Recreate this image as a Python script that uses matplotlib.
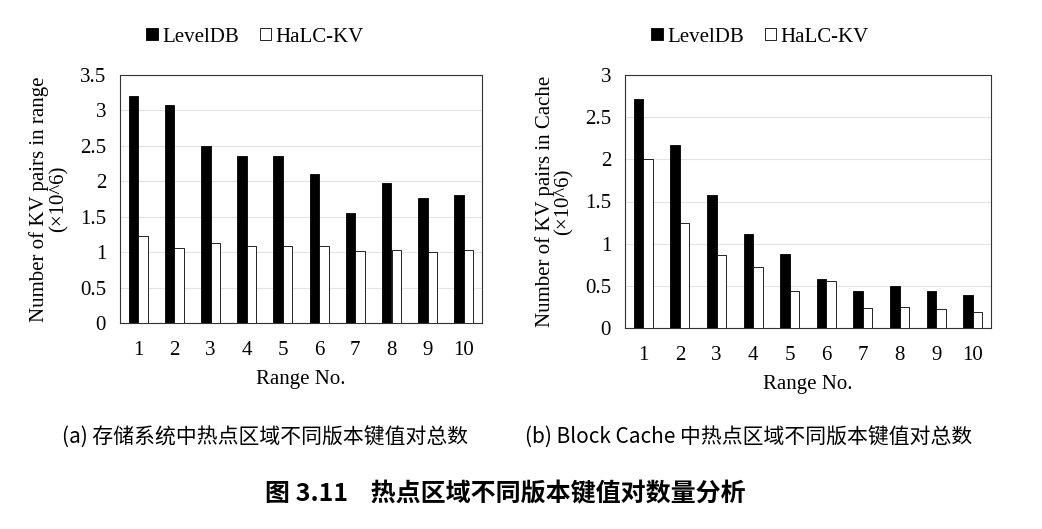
import numpy as np
import matplotlib
matplotlib.use("Agg")
import matplotlib.pyplot as plt

plt.rcParams['font.family'] = ['Liberation Serif', 'DejaVu Serif']

ranges = ["1", "2", "3", "4", "5", "6", "7", "8", "9", "10"]
series_names = ["LevelDB", "HaLC-KV"]

# (a) KV pairs in range (x10^6)
leveldb_range = [3.21, 3.07, 2.50, 2.36, 2.35, 2.10, 1.55, 1.97, 1.76, 1.80]
halc_range = [1.23, 1.06, 1.13, 1.085, 1.08, 1.085, 1.01, 1.03, 1.00, 1.03]

# (b) KV pairs in block cache (x10^6)
leveldb_cache = [2.71, 2.17, 1.58, 1.11, 0.88, 0.58, 0.435, 0.50, 0.435, 0.39]
halc_cache = [2.00, 1.24, 0.87, 0.72, 0.435, 0.56, 0.24, 0.245, 0.22, 0.19]

captions = ["(a) 存储系统中热点区域不同版本键值对总数",
            "(b) Block Cache 中热点区域不同版本键值对总数"]
fig_title = "图 3.11    热点区域不同版本键值对数量分析"

fig = plt.figure(figsize=(10.42, 5.29), dpi=100)

W, H = 1042.0, 529.0
# axes boxes in pixel coords: left, top, right, bottom
boxes = [(120, 75, 482, 323), (625, 75, 991, 328)]
legend_cx = [255, 760]
panels = [
    (leveldb_range, halc_range, 3.5, np.arange(0, 3.51, 0.5),
     "Number of KV pairs in range\n(×10^6)"),
    (leveldb_cache, halc_cache, 3.0, np.arange(0, 3.01, 0.5),
     "Number of KV pairs in Cache\n(×10^6)"),
]

x = np.arange(1, len(ranges) + 1)
w = 0.26
for (l, t, r, b), lcx, (a_vals, b_vals, ymax, yt, ylab) in zip(boxes, legend_cx, panels):
    ax = fig.add_axes([l / W, 1 - b / H, (r - l) / W, (b - t) / H])
    ax.bar(x - w / 2, a_vals, w, color='black', edgecolor='black',
           linewidth=0.6, label=series_names[0], zorder=3)
    ax.bar(x + w / 2, b_vals, w, color='white', edgecolor='black',
           linewidth=0.6, label=series_names[1], zorder=3)
    ax.set_xlim(0.5, 10.5)
    ax.set_ylim(0, ymax)
    ax.set_yticks(yt)
    ax.set_yticklabels([("%g" % v) for v in yt])
    ax.set_xticks(x)
    ax.set_xticklabels(ranges)
    ax.yaxis.grid(True, color='#e4e4e4', linewidth=0.8, zorder=0)
    ax.tick_params(length=0, labelsize=15, pad=10)
    ax.tick_params(axis='x', pad=13)
    for s in ax.spines.values():
        s.set_color('#333333')
        s.set_linewidth(0.8)
    ax.set_xlabel("Range No.", fontsize=15, labelpad=7)
    ax.set_ylabel(ylab, fontsize=15, linespacing=1.0, labelpad=8)
    ax.legend(loc='center', bbox_to_anchor=((lcx - l) / (r - l), 1 + (t - 37) / (b - t)),
              ncol=2, frameon=False, fontsize=15, handlelength=0.55, handleheight=0.55,
              handletextpad=0.2, columnspacing=1.0, borderaxespad=0)

cjk = ['Noto Sans CJK SC', 'DejaVu Sans']
fig.text(62 / W, 1 - 438 / H, captions[0], family=cjk, fontsize=15,
         ha='left', va='center')
fig.text(525 / W, 1 - 438 / H, captions[1], family=cjk, fontsize=15,
         ha='left', va='center')
fig.text(505 / W, 1 - 494 / H, fig_title, family=cjk, fontsize=18,
         fontweight='bold', ha='center', va='center')

fig.savefig("out.png", dpi=100)
